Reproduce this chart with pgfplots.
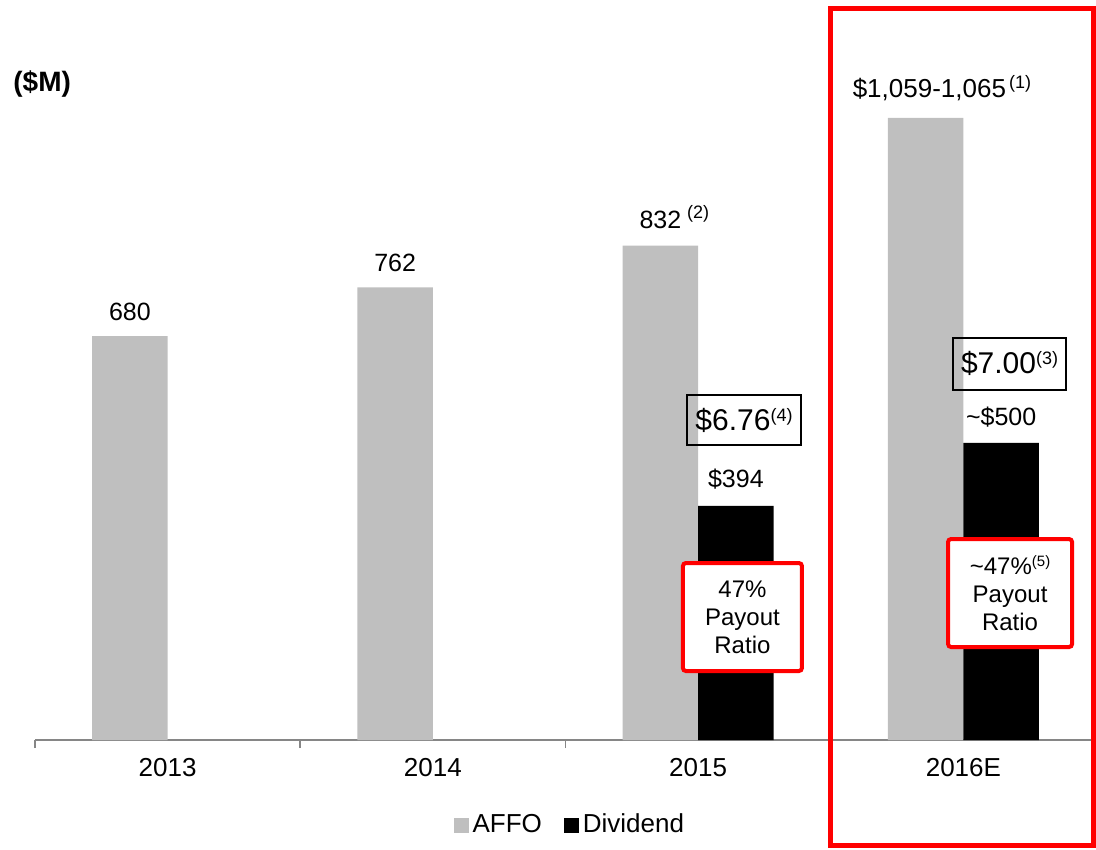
\documentclass[border=0pt]{standalone}
\usepackage{fontspec}
\setmainfont{Liberation Sans}
\usepackage{pgfplots}
\pgfplotsset{compat=1.18}
\definecolor{barGray}{RGB}{191,191,191}
\definecolor{axisGray}{RGB}{134,134,134}
\definecolor{frameRed}{RGB}{255,0,0}
\newcommand\fs[1]{\fontsize{#1}{#1}\selectfont}
\newcommand\sups[3]{\raisebox{#2}{\fs{#3}(#1)}}
\pgfplotsset{sq legend/.style={legend image code/.code={\fill[##1] (0pt,-3.75pt) rectangle (7.5pt,3.75pt);}}}
\begin{document}
\begin{tikzpicture}
\useasboundingbox (0,0) rectangle (548pt,425pt);
\begin{axis}[
  at={(17.5pt,55pt)}, anchor=south west,
  scale only axis, width=530.5pt, height=370pt,
  xmin=-0.5, xmax=3.5, ymin=0, ymax=1245.6,
  axis y line=none,
  axis x line*=bottom,
  x axis line style={-, draw=axisGray, line width=0.9pt},
  xtick={0,1,2,3}, xticklabels={2013,2014,2015,2016E},
  minor xtick={-0.5,0.5,1.5,2.5,3.5},
  major tick length=0pt, minor tick length=4pt,
  tick align=outside, tick style={axisGray, line width=0.9pt},
  xticklabel style={font=\fs{13}, yshift=-5.5pt},
  clip=false,
  legend style={at={(0.505,-0.1149)}, anchor=center, draw=none, fill=none,
    legend columns=2, font=\fs{13},
    /tikz/every even column/.append style={column sep=9pt}},
]
\addplot[ybar, bar width=37.75pt, bar shift=-18.875pt, fill=barGray, draw=none, sq legend]
  coordinates {(0,680) (1,762) (2,832) (3,1047)};
\addplot[ybar, bar width=37.75pt, bar shift=18.875pt, fill=black, draw=none, sq legend]
  coordinates {(2,394) (3,500)};
\legend{AFFO, Dividend}
% data labels
\node[anchor=base, inner sep=0pt, xshift=-18.875pt, yshift=8pt, font=\fs{12.5}] at (axis cs:0,680) {680};
\node[anchor=base, inner sep=0pt, xshift=-18.875pt, yshift=8pt, font=\fs{12.5}] at (axis cs:1,762) {762};
\node[anchor=base, inner sep=0pt, xshift=-18.875pt, yshift=8.5pt, font=\fs{12.5}] at (axis cs:2,832) {832\rlap{\hspace{3pt}\sups{2}{5pt}{9}}};
\node[anchor=base, inner sep=0pt, xshift=-17pt, yshift=10pt, font=\fs{13}] at (axis cs:3,1047) {\$1,059-1,065\rlap{\hspace{1.5pt}\sups{1}{4.5pt}{9}}};
\node[anchor=base, inner sep=0pt, xshift=18.875pt, yshift=9pt, font=\fs{12.5}] at (axis cs:2,394) {\$394};
\node[anchor=base, inner sep=0pt, xshift=18.875pt, yshift=8.5pt, font=\fs{12.5}] at (axis cs:3,500) {\textasciitilde\$500};
% black boxes
\node[draw=black, line width=1pt, minimum width=57pt, minimum height=25pt, inner sep=0pt, font=\fs{15}]
  at (axis cs:2.173,537.8) {\$6.76\sups{4}{4.5pt}{9}};
\node[draw=black, line width=1pt, minimum width=56.5pt, minimum height=26pt, inner sep=0pt, font=\fs{15}]
  at (axis cs:3.174,633.7) {\$7.00\sups{3}{4.5pt}{9}};
% red boxes
\node[draw=frameRed, fill=white, line width=2pt, rounded corners=1.5pt, minimum width=59.5pt, minimum height=54pt,
  inner sep=0pt, align=center, font=\fontsize{12}{14}\selectfont]
  at (axis cs:2.167,207) {47\%\\Payout\\Ratio};
\node[draw=frameRed, fill=white, line width=2pt, rounded corners=1.5pt, minimum width=62pt, minimum height=54pt,
  inner sep=0pt, align=center, font=\fontsize{12}{14}\selectfont]
  at (axis cs:3.176,247.4) {\textasciitilde47\%\sups{5}{4pt}{7.5}\\Payout\\Ratio};
\end{axis}
\node[anchor=base west, inner sep=0pt, font=\fs{14}\bfseries] at (6.5pt,379pt) {(\$M)};
\draw[frameRed, line width=2.5pt] (415pt,420.5pt) rectangle (546.5pt,2pt);
\end{tikzpicture}
\end{document}
